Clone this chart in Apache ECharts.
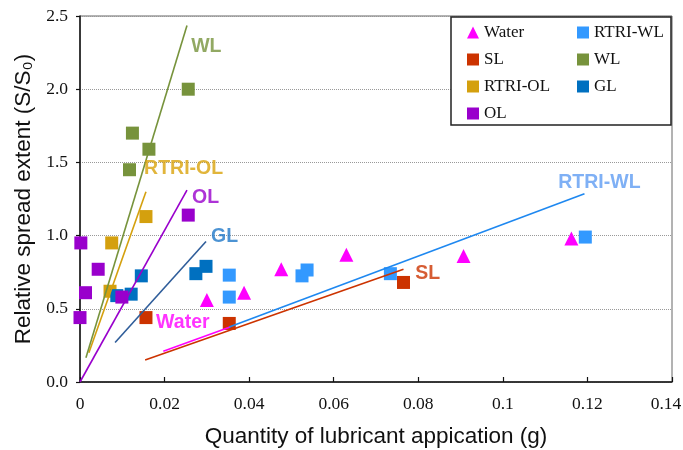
<!DOCTYPE html>
<html>
<head>
<meta charset="utf-8">
<title>Relative spread extent vs lubricant quantity</title>
<script src="https://cdn.jsdelivr.net/npm/echarts@6/dist/echarts.min.js"></script>
<style>
  html, body { margin: 0; padding: 0; background: #fff; }
  #chart { width: 683px; height: 450px; }
</style>
</head>
<body>
<div id="chart"></div>
<script>
// Measured points: quantity of lubricant (g) vs relative spread extent S/S0
const waterX   = [0.030, 0.0388, 0.0476, 0.063, 0.0907, 0.1162];
const waterY   = [0.56, 0.61, 0.77, 0.87, 0.86, 0.98];
const slX      = [0.0156, 0.0353, 0.0765];
const slY      = [0.44, 0.40, 0.68];
const rtriOlX  = [0.0071, 0.0075, 0.0156];
const rtriOlY  = [0.62, 0.95, 1.13];
const glX      = [0.0087, 0.0121, 0.0145, 0.0274, 0.0298];
const glY      = [0.59, 0.60, 0.725, 0.74, 0.79];
const olX      = [0.0, 0.0002, 0.0013, 0.0043, 0.0099, 0.0256];
const olY      = [0.44, 0.95, 0.61, 0.77, 0.58, 1.14];
const rtriWlX  = [0.0353, 0.0353, 0.0525, 0.0537, 0.0734, 0.1195];
const rtriWlY  = [0.73, 0.58, 0.725, 0.765, 0.74, 0.99];
const wlX      = [0.0117, 0.0124, 0.0163, 0.0256];
const wlY      = [1.45, 1.70, 1.59, 2.0];

// Linear fit segments (start and end of each trend line)
const waterFitX  = [0.0197, 0.0355];
const waterFitY  = [0.21, 0.375];
const slFitX     = [0.0154, 0.0765];
const slFitY     = [0.15, 0.77];
const rtriOlFitX = [0.0021, 0.0156];
const rtriOlFitY = [0.20, 1.30];
const glFitX     = [0.0083, 0.0298];
const glFitY     = [0.27, 0.96];
const olFitX     = [0.0, 0.0253];
const olFitY     = [0.0, 1.31];
const rtriWlFitX = [0.0353, 0.1193];
const rtriWlFitY = [0.375, 1.286];
const wlFitX     = [0.0014, 0.0253];
const wlFitY     = [0.165, 2.435];

// Trend line captions and where each one starts
const captionText = ['WL', 'RTRI-OL', 'OL', 'GL', 'Water', 'SL', 'RTRI-WL'];
const captionX    = [0.0263, 0.01515, 0.0265, 0.031, 0.018, 0.0793, 0.1131];
const captionY    = [2.29, 1.457, 1.258, 0.99, 0.404, 0.739, 1.361];

// Axis ticks
const xTicks = [0, 0.02, 0.04, 0.06, 0.08, 0.1, 0.12, 0.14];
const yTicks = [0.0, 0.5, 1.0, 1.5, 2.0, 2.5];

const COLORS = {
  'Water': '#FF00FF',
  'SL': '#CC3300',
  'RTRI-OL': '#D4A00E',
  'OL': '#9900CC',
  'RTRI-WL': '#3399FF',
  'WL': '#77933C',
  'GL': '#0070C0'
};
const FIT_COLORS = {
  'Water': '#FF00FF',
  'SL': '#CC3300',
  'RTRI-OL': '#D4A00E',
  'OL': '#9900CC',
  'RTRI-WL': '#1E88F0',
  'WL': '#77933C',
  'GL': '#2F5D9A'
};
const CAPTION_COLORS = {
  'WL': '#77933C',
  'RTRI-OL': '#D9A20A',
  'OL': '#9900CC',
  'GL': '#1F78C8',
  'Water': '#FF00FF',
  'SL': '#CC3300',
  'RTRI-WL': '#5F9CF2'
};

const zip = (xs, ys) => xs.map((x, i) => [x, ys[i]]);

function scatter(name, xs, ys, symbol) {
  return {
    name: name,
    type: 'scatter',
    symbol: symbol,
    symbolSize: symbol === 'triangle' ? 14 : 13,
    itemStyle: { color: COLORS[name], opacity: 1 },
    data: zip(xs, ys),
    z: 2
  };
}

function fitLine(name, xs, ys) {
  return {
    name: name + ' fit',
    type: 'line',
    data: zip(xs, ys),
    symbol: 'none',
    silent: true,
    lineStyle: { color: FIT_COLORS[name], width: 1.6 },
    z: 3
  };
}

const captions = {
  name: 'captions',
  type: 'scatter',
  symbolSize: 0,
  silent: true,
  z: 4,
  data: captionText.map((t, i) => ({
    value: [captionX[i], captionY[i]],
    label: {
      show: true,
      formatter: t,
      position: 'right',
      distance: 0,
      color: CAPTION_COLORS[t],
      fontFamily: 'Liberation Sans, Arial, sans-serif',
      fontWeight: 'bold',
      fontSize: 19.5
    }
  }))
};

const serifFont = 'Liberation Serif, Times New Roman, serif';

const legendText = {
  fontFamily: serifFont,
  fontSize: 17,
  color: '#111'
};

const xMax = xTicks[xTicks.length - 1];

const chart = echarts.init(document.getElementById('chart'), null, { renderer: 'canvas' });

chart.setOption({
  animation: false,
  backgroundColor: '#fff',
  grid: {
    left: 80, right: 11, top: 16, bottom: 68,
    outerBoundsMode: 'none',
    containLabel: false,
    show: true, borderColor: '#666', borderWidth: 1, backgroundColor: 'transparent'
  },
  xAxis: {
    type: 'value',
    min: xTicks[0],
    max: xMax,
    interval: 0.02,
    name: 'Quantity of lubricant appication (g)',
    nameLocation: 'middle',
    nameGap: 43,
    nameTextStyle: { fontFamily: 'Liberation Sans, Arial, sans-serif', fontSize: 22.5, color: '#111' },
    axisLine: { show: true, lineStyle: { color: '#111', width: 1.5 } },
    axisTick: { show: true, inside: true, length: 5, lineStyle: { color: '#111', width: 1.2 } },
    axisLabel: {
      margin: 13,
      fontFamily: serifFont,
      fontSize: 17.5,
      color: '#111',
      // the last label is nudged left so it stays inside the page
      formatter: v => {
        const s = String(+v.toFixed(2));
        return Math.abs(v - xMax) < 1e-9 ? '{edge|' + s + '}' : s;
      },
      rich: {
        edge: { fontFamily: serifFont, fontSize: 17.5, color: '#111', padding: [0, 12, 0, 0] }
      }
    },
    splitLine: { show: false }
  },
  yAxis: {
    type: 'value',
    min: yTicks[0],
    max: yTicks[yTicks.length - 1],
    interval: 0.5,
    name: 'Relative spread extent (S/S\u2080)',
    nameLocation: 'middle',
    nameRotate: 90,
    nameGap: 39,
    nameTextStyle: { fontFamily: 'Liberation Sans, Arial, sans-serif', fontSize: 22.5, color: '#111' },
    axisLine: { show: true, lineStyle: { color: '#111', width: 1.5 } },
    axisTick: { show: true, inside: false, length: 4, lineStyle: { color: '#111', width: 1.2 } },
    axisLabel: {
      margin: 12,
      fontFamily: serifFont,
      fontSize: 17.5,
      color: '#111',
      formatter: v => v.toFixed(1)
    },
    splitLine: { show: true, lineStyle: { color: '#999', type: 'dotted', width: 1 } }
  },
  graphic: [{
    type: 'rect',
    z: 10,
    shape: { x: 451, y: 17, width: 220, height: 108 },
    style: { fill: '#fff', stroke: '#222', lineWidth: 1.5 }
  }],
  legend: [{
    orient: 'vertical',
    left: 462, top: 19,
    itemWidth: 12, itemHeight: 12, itemGap: 10,
    data: ['Water', 'SL', 'RTRI-OL', 'OL'],
    textStyle: legendText,
    z: 11, selectedMode: false
  }, {
    orient: 'vertical',
    left: 572, top: 19,
    itemWidth: 12, itemHeight: 12, itemGap: 10,
    data: ['RTRI-WL', 'WL', 'GL'],
    textStyle: legendText,
    z: 11, selectedMode: false
  }],
  series: [
    scatter('Water', waterX, waterY, 'triangle'),
    scatter('SL', slX, slY, 'rect'),
    scatter('RTRI-OL', rtriOlX, rtriOlY, 'rect'),
    scatter('RTRI-WL', rtriWlX, rtriWlY, 'rect'),
    scatter('WL', wlX, wlY, 'rect'),
    scatter('GL', glX, glY, 'rect'),
    scatter('OL', olX, olY, 'rect'),
    fitLine('Water', waterFitX, waterFitY),
    fitLine('SL', slFitX, slFitY),
    fitLine('RTRI-OL', rtriOlFitX, rtriOlFitY),
    fitLine('GL', glFitX, glFitY),
    fitLine('OL', olFitX, olFitY),
    fitLine('RTRI-WL', rtriWlFitX, rtriWlFitY),
    fitLine('WL', wlFitX, wlFitY),
    captions
  ]
});
</script>
</body>
</html>
